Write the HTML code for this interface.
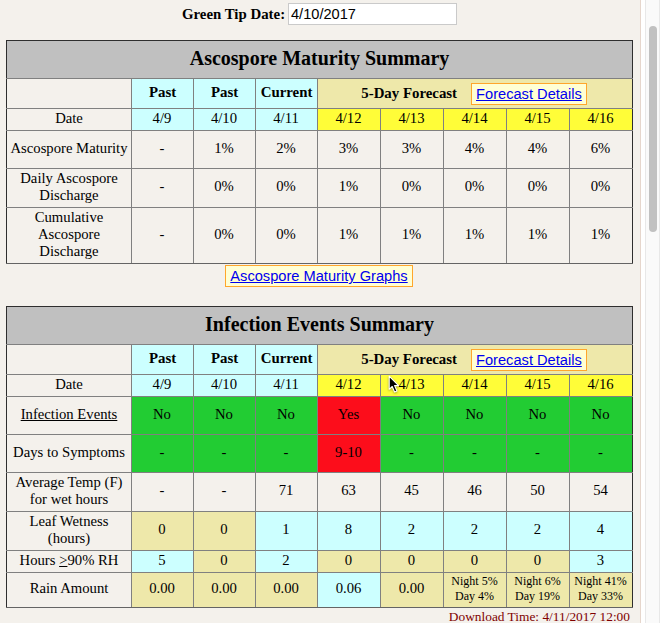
<!DOCTYPE html>
<html>
<head>
<meta charset="utf-8">
<title>Apple Scab</title>
<style>
html,body{margin:0;padding:0;background:#fff;}
body{width:664px;height:641px;overflow:hidden;position:relative;font-family:"Liberation Serif",serif;font-size:14.7px;line-height:17px;color:#000;}
#page{position:absolute;left:0;top:0;width:640px;height:623px;background:#f4f1ec;overflow:hidden;}
#edge{position:absolute;left:640px;top:0;width:1px;height:623px;background:#e6d6cc;}
#track{position:absolute;left:645px;top:0;width:15px;height:623px;background:#fafafa;box-sizing:border-box;border-left:1px solid #e8e8e8;border-right:1px solid #e8e8e8;}
#thumb{position:absolute;left:649px;top:26px;width:8px;height:206px;border-radius:4px;background:#c1c1c1;}
#gt{position:absolute;left:182px;top:6px;font-weight:bold;font-size:14.85px;white-space:nowrap;}
#inp{position:absolute;left:288px;top:3px;width:169px;height:22px;box-sizing:border-box;background:#fff;border:1px solid #cacaca;font-family:"Liberation Sans",sans-serif;font-size:14.6px;line-height:20px;padding-left:2px;}
table{position:absolute;left:6px;width:627px;border-collapse:collapse;table-layout:fixed;}
td,th{border:1px solid #808080;padding:1px 2px 3px;text-align:center;vertical-align:middle;font-weight:normal;overflow:hidden;}
td+td{padding-right:3px;}
tr:first-child>th{border-top-color:#2e2e2e;}
tr:last-child>td{border-bottom-color:#646464;}
tr>:first-child{border-left-color:#2e2e2e;}
tr>:last-child{border-right-color:#2e2e2e;}
th.title{background:#c0c0c0;font-weight:bold;font-size:20px;line-height:23px;height:33px;}
tr.hd th{height:25px;font-weight:bold;font-size:14.85px;}
tr.dt td{height:17px;}
.c{background:#ccffff;}
.k{background:#eee8aa;}
th.k{padding:2px 4px 2px 2px;}
.y{background:#fffd38;}
.g{background:#22cc33;}
.r{background:#fc0d1b;}
tr.u>td+td,tr.v>td{padding-bottom:4px;}
tr.u>td.s{font-size:12px;line-height:15px;padding-bottom:3px;}
a.b{font-family:"Liberation Sans",sans-serif;font-size:14.65px;font-weight:normal;color:#0000ee;text-decoration:underline;background:#ffffd4;border:1px solid #ffa62b;padding:2px 4px 2px;vertical-align:-1px;}
#t1{top:40px;}
#t2{top:306px;}
#amg{position:absolute;left:-1px;top:267px;width:640px;text-align:center;}
#dl{position:absolute;right:10px;top:608px;color:#800000;white-space:nowrap;font-size:13.38px;}
</style>
</head>
<body>
<div id="page">
<div id="gt">Green Tip Date:</div>
<div id="inp">4/10/2017</div>

<table id="t1">
<colgroup><col style="width:125px"><col style="width:62px"><col style="width:62px"><col style="width:62px"><col style="width:63px"><col style="width:63px"><col style="width:63px"><col style="width:63px"><col style="width:63px"></colgroup>
<tr><th class="title" colspan="9">Ascospore Maturity Summary</th></tr>
<tr class="hd"><th></th><th class="c">Past</th><th class="c">Past</th><th class="c">Current</th><th class="k" colspan="5">5-Day Forecast<a class="b" style="margin-left:14px">Forecast Details</a></th></tr>
<tr class="dt"><td>Date</td><td class="c">4/9</td><td class="c">4/10</td><td class="c">4/11</td><td class="y">4/12</td><td class="y">4/13</td><td class="y">4/14</td><td class="y">4/15</td><td class="y">4/16</td></tr>
<tr style="height:38px"><td>Ascospore Maturity</td><td>-</td><td>1%</td><td>2%</td><td>3%</td><td>3%</td><td>4%</td><td>4%</td><td>6%</td></tr>
<tr class="u" style="height:39px"><td>Daily Ascospore Discharge</td><td>-</td><td>0%</td><td>0%</td><td>1%</td><td>0%</td><td>0%</td><td>0%</td><td>0%</td></tr>
<tr style="height:56px"><td>Cumulative Ascospore Discharge</td><td>-</td><td>0%</td><td>0%</td><td>1%</td><td>1%</td><td>1%</td><td>1%</td><td>1%</td></tr>
</table>

<div id="amg"><a class="b">Ascospore Maturity Graphs</a></div>

<table id="t2">
<colgroup><col style="width:125px"><col style="width:62px"><col style="width:62px"><col style="width:62px"><col style="width:63px"><col style="width:63px"><col style="width:63px"><col style="width:63px"><col style="width:63px"></colgroup>
<tr><th class="title" colspan="9">Infection Events Summary</th></tr>
<tr class="hd"><th></th><th class="c">Past</th><th class="c">Past</th><th class="c">Current</th><th class="k" colspan="5">5-Day Forecast<a class="b" style="margin-left:14px">Forecast Details</a></th></tr>
<tr class="dt"><td>Date</td><td class="c">4/9</td><td class="c">4/10</td><td class="c">4/11</td><td class="y">4/12</td><td class="y">4/13</td><td class="y">4/14</td><td class="y">4/15</td><td class="y">4/16</td></tr>
<tr style="height:38px"><td><u>Infection Events</u></td><td class="g">No</td><td class="g">No</td><td class="g">No</td><td class="r">Yes</td><td class="g">No</td><td class="g">No</td><td class="g">No</td><td class="g">No</td></tr>
<tr style="height:38px"><td>Days to Symptoms</td><td class="g">-</td><td class="g">-</td><td class="g">-</td><td class="r">9-10</td><td class="g">-</td><td class="g">-</td><td class="g">-</td><td class="g">-</td></tr>
<tr class="u" style="height:39px"><td>Average Temp (F) for wet hours</td><td>-</td><td>-</td><td>71</td><td>63</td><td>45</td><td>46</td><td>50</td><td>54</td></tr>
<tr class="u" style="height:39px"><td>Leaf Wetness (hours)</td><td class="k">0</td><td class="k">0</td><td class="c">1</td><td class="c">8</td><td class="c">2</td><td class="c">2</td><td class="c">2</td><td class="c">4</td></tr>
<tr style="height:22px"><td>Hours <u>&gt;</u>90% RH</td><td class="c">5</td><td class="k">0</td><td class="c">2</td><td class="k">0</td><td class="k">0</td><td class="k">0</td><td class="k">0</td><td class="c">3</td></tr>
<tr class="u v" style="height:35px"><td>Rain Amount</td><td class="k">0.00</td><td class="k">0.00</td><td class="k">0.00</td><td class="c">0.06</td><td class="k">0.00</td><td class="k s">Night 5%<br>Day 4%</td><td class="k s">Night 6%<br>Day 19%</td><td class="k s">Night 41%<br>Day 33%</td></tr>
</table>

<svg id="cur" width="14" height="20" viewBox="0 0 14 20" style="position:absolute;left:387px;top:374px;overflow:visible;filter:drop-shadow(0 1px 1px rgba(0,0,0,0.35))"><path d="M2.2 2.2 L2.2 15.3 L5.2 12.5 L7.6 18 L10 17 L7.6 11.6 L11.6 11.6 Z" fill="#000" stroke="#fff" stroke-width="1.1" stroke-linejoin="round"/></svg>
<div id="dl">Download Time: 4/11/2017 12:00</div>
</div>
<div id="edge"></div>
<div id="track"></div>
<div id="thumb"></div>
</body>
</html>
